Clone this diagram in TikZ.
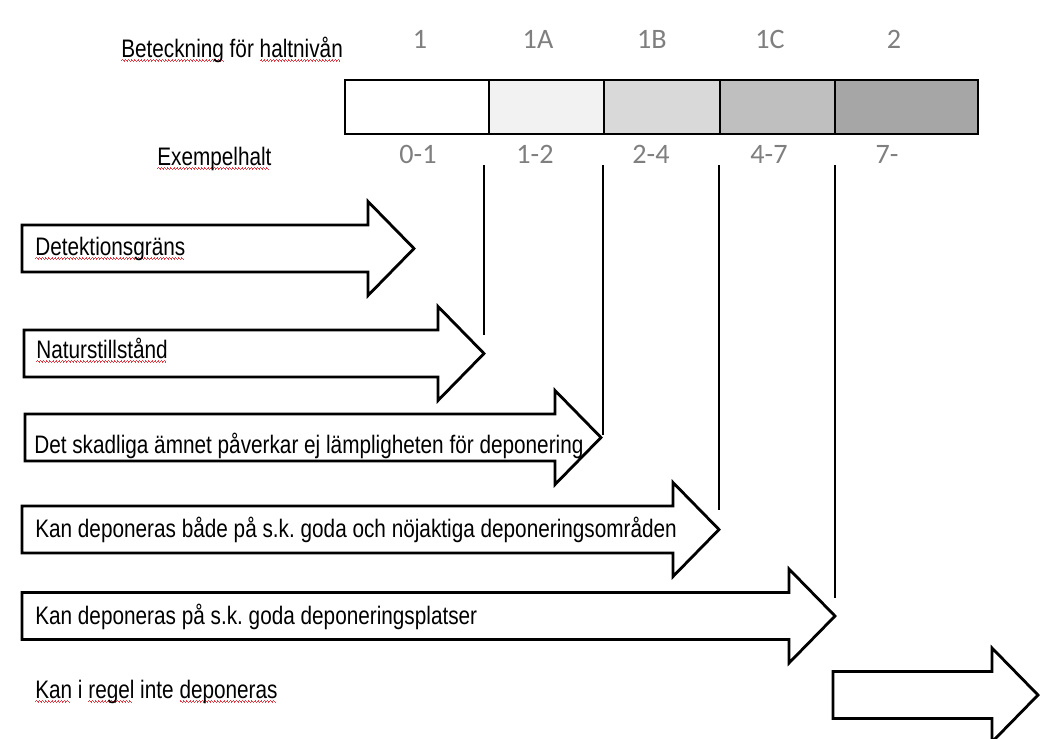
\documentclass[tikz,border=0pt]{standalone}
\usepackage{fontspec}
\setmainfont{Liberation Sans}[FakeStretch=0.82]
\newfontfamily\calfont{Carlito}
\definecolor{levelgray}{HTML}{7F7F7F}
\definecolor{spellred}{HTML}{E0404A}
\newcommand\spellwave[1]{\setbox0\hbox{#1}\leavevmode\rlap{\textcolor{spellred}{\leaders\hbox{\rule[-2.6pt]{0.55pt}{0.55pt}\rule[-2.1pt]{0.55pt}{0.55pt}\rule[-2.6pt]{0.55pt}{0.55pt}\rule[-3.1pt]{0.55pt}{0.55pt}}\hskip\wd0}}\box0\relax}
\frenchspacing

\begin{document}
\begin{tikzpicture}[x=0.025cm,y=-0.025cm,
	lbl/.style={anchor=base west,inner sep=0pt,font=\fontsize{18}{21}\selectfont},
	lvl/.style={anchor=base,inner sep=0pt,text=levelgray,font=\calfont\fontsize{20}{23}\selectfont},
	blockarrow/.style={line width=2pt,line join=miter,fill=white},
	guide/.style={line width=0.75pt}]
	\useasboundingbox[fill=white] (0,0) rectangle (1046,738);
	% scale of levels
	\foreach \a/\b/\f in {345/489/white,489/604/black!5,604/720/black!15,720/835/black!25,835/978/black!35}
		\draw[line width=2pt,fill=\f] (\a,80) rectangle (\b,134);
	\foreach \x/\t/\y/\v [count=\i] in {420/1/418/0-1,538/1A/535/1-2,652/1B/651/2-4,770/1C/769/4-7,894/2/887/7-}{
		\node[lvl] (lev\i) at (\x,48) {\t};
		\node[lvl] (val\i) at (\y,163) {\v};
	}
	\node[lbl] (beteck) at (121,57) {\spellwave{Beteckning} för \spellwave{haltnivån}};
	\node[lbl] (exempel) at (157,165) {\spellwave{Exempelhalt}};
	% block arrows
	\foreach \l/\c/\h [count=\i] in {22/248.5/368,24/353.5/438,25/437.5/555,22/529.5/673,22/616/789,833/695/992}{
		\draw[blockarrow] (\l,\c-23.5) -- (\h,\c-23.5) -- (\h,\c-47) -- (\h+46,\c) -- (\h,\c+47) -- (\h,\c+23.5) -- (\l,\c+23.5) -- cycle;
		\coordinate (tip\i) at (\h+46,\c);
	}
	\node[lbl] (det) at (35,255) {\spellwave{Detektionsgräns}};
	\node[lbl] (nat) at (36,358) {\spellwave{Naturstillstånd}};
	\node[lbl] (skad) at (34,453) {Det skadliga ämnet påverkar ej lämpligheten för deponering};
	\node[lbl] (bade) at (35,537) {Kan deponeras både på s.k. goda och nöjaktiga deponeringsområden};
	\node[lbl] (goda) at (35,624) {Kan deponeras på s.k. goda deponeringsplatser};
	\node[lbl] (regel) at (35,698) {\spellwave{Kan} i \spellwave{regel} inte \spellwave{deponeras}};
	% guide lines
	\foreach \x/\e [count=\i] in {484/335,603/435,719/510,835/598}{
		\coordinate (gtop\i) at (\x,165);
		\coordinate (gend\i) at (\x,\e);
		\draw[guide] (gtop\i) -- (gend\i);
	}
\end{tikzpicture}
\end{document}
